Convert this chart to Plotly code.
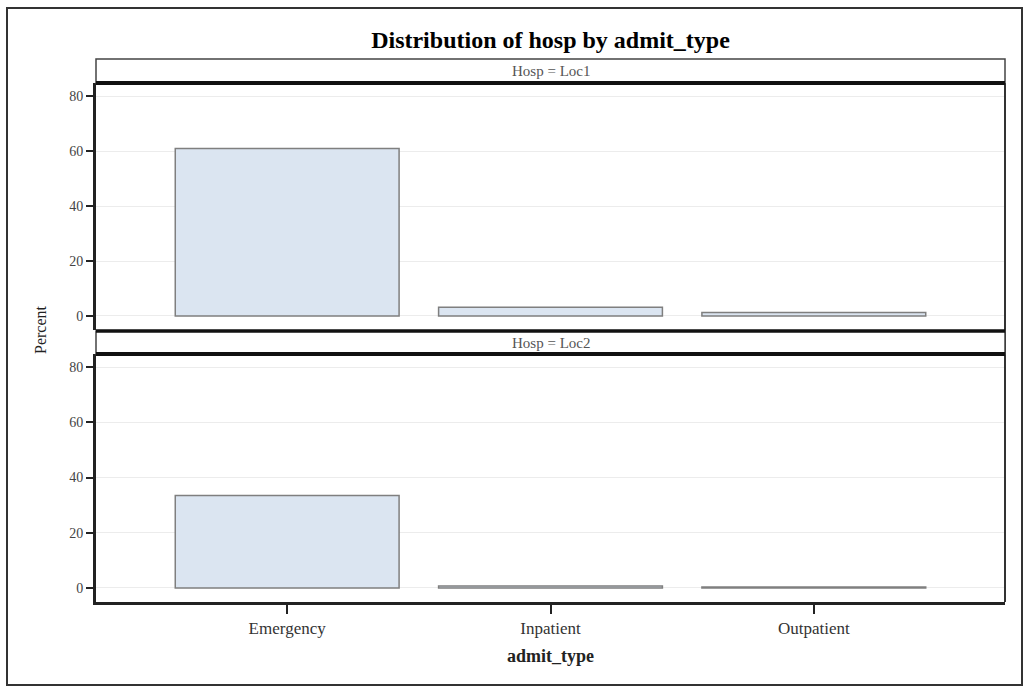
import plotly.graph_objects as go

# Percent of all admissions, by hospital and admission type
categories = ["Emergency", "Inpatient", "Outpatient"]
loc1_percent = [61.0, 3.2, 1.3]
loc2_percent = [33.5, 0.7, 0.3]
panel_labels = ["Hosp = Loc1", "Hosp = Loc2"]
y_ticks = [0, 20, 40, 60, 80]

W, H = 1027, 688
ML, MR, MT, MB = 96, 22, 83, 86
PW = W - ML - MR
PH = H - MT - MB


def px_x(px):
    return (px - ML) / PW


def px_y(py):
    return (H - MB - py) / PH


FONT = "Liberation Serif"
BAR_FILL = "#dbe5f1"
BAR_LINE = "#7f7f7f"

fig = go.Figure()
for vals, yax in [(loc1_percent, "y"), (loc2_percent, "y2")]:
    fig.add_trace(go.Bar(
        x=categories, y=vals, yaxis=yax, width=0.85,
        marker=dict(color=BAR_FILL, line=dict(color=BAR_LINE, width=1.5)),
        showlegend=False, hoverinfo="x+y",
    ))

yaxis_common = dict(
    range=[-5.1, 84.8], tickvals=y_ticks, ticks="outside", ticklen=7,
    tickwidth=2, tickcolor="#222", showline=True, linecolor="#222",
    linewidth=3, gridcolor="#ececec", gridwidth=1, zeroline=False,
    tickfont=dict(family=FONT, size=14, color="#444"), mirror=False,
)

p1_dom = [px_y(330), 1.0]
p2_dom = [0.0, px_y(354)]

fig.update_layout(
    width=W, height=H,
    margin=dict(l=ML, r=MR, t=MT, b=MB),
    paper_bgcolor="white", plot_bgcolor="white",
    bargap=0.15,
    xaxis=dict(
        range=[-0.726, 2.726], ticks="outside", ticklen=9, tickwidth=2,
        tickcolor="#222", showline=True, linecolor="#222", linewidth=3,
        showgrid=False, anchor="y2",
        tickfont=dict(family=FONT, size=17, color="#333"),
        title=dict(text="<b>admit_type</b>", font=dict(family=FONT, size=18, color="#222"), standoff=12),
    ),
    yaxis=dict(domain=p1_dom, **yaxis_common),
    yaxis2=dict(domain=p2_dom, **yaxis_common),
    title=dict(
        text="<b>Distribution of hosp by admit_type</b>",
        x=0.5, xanchor="center", y=1 - 40 / H, yanchor="middle",
        xref="paper",
        font=dict(family=FONT, size=24, color="#000"),
    ),
)

shapes = []
annotations = []

# right edge of the plotting frame
shapes.append(dict(type="line", xref="paper", yref="paper", x0=1, x1=1,
                   y0=0, y1=1, line=dict(color="#333", width=2)))

# strip headers above each panel
strip_px = [(59, 83), (331, 354)]
for (top, bot), label in zip(strip_px, panel_labels):
    shapes.append(dict(type="rect", xref="paper", yref="paper",
                       x0=0, x1=1, y0=px_y(bot), y1=px_y(top),
                       fillcolor="white", line=dict(color="#444", width=1.5)))
    shapes.append(dict(type="line", xref="paper", yref="paper",
                       x0=0, x1=1, y0=px_y(bot), y1=px_y(bot),
                       line=dict(color="#111", width=4)))
    annotations.append(dict(text=label, xref="paper", yref="paper",
                            x=0.5, y=px_y((top + bot) / 2), showarrow=False,
                            xanchor="center", yanchor="middle",
                            font=dict(family=FONT, size=15, color="#555")))

# thick separator between the panels
shapes.append(dict(type="line", xref="paper", yref="paper",
                   x0=0, x1=1, y0=px_y(331), y1=px_y(331),
                   line=dict(color="#111", width=3.5)))

# outer border around the whole graphic
shapes.append(dict(type="rect", xref="paper", yref="paper",
                   x0=px_x(7), x1=px_x(1022), y0=px_y(685), y1=px_y(8),
                   line=dict(color="#333", width=2), fillcolor="rgba(0,0,0,0)",
                   layer="below"))

annotations.append(dict(text="Percent", xref="paper", yref="paper",
                        x=px_x(40), y=px_y(330), showarrow=False,
                        textangle=-90, xanchor="center", yanchor="middle",
                        font=dict(family=FONT, size=16, color="#222")))

fig.update_layout(shapes=shapes, annotations=annotations)

fig.write_html("out.html")
